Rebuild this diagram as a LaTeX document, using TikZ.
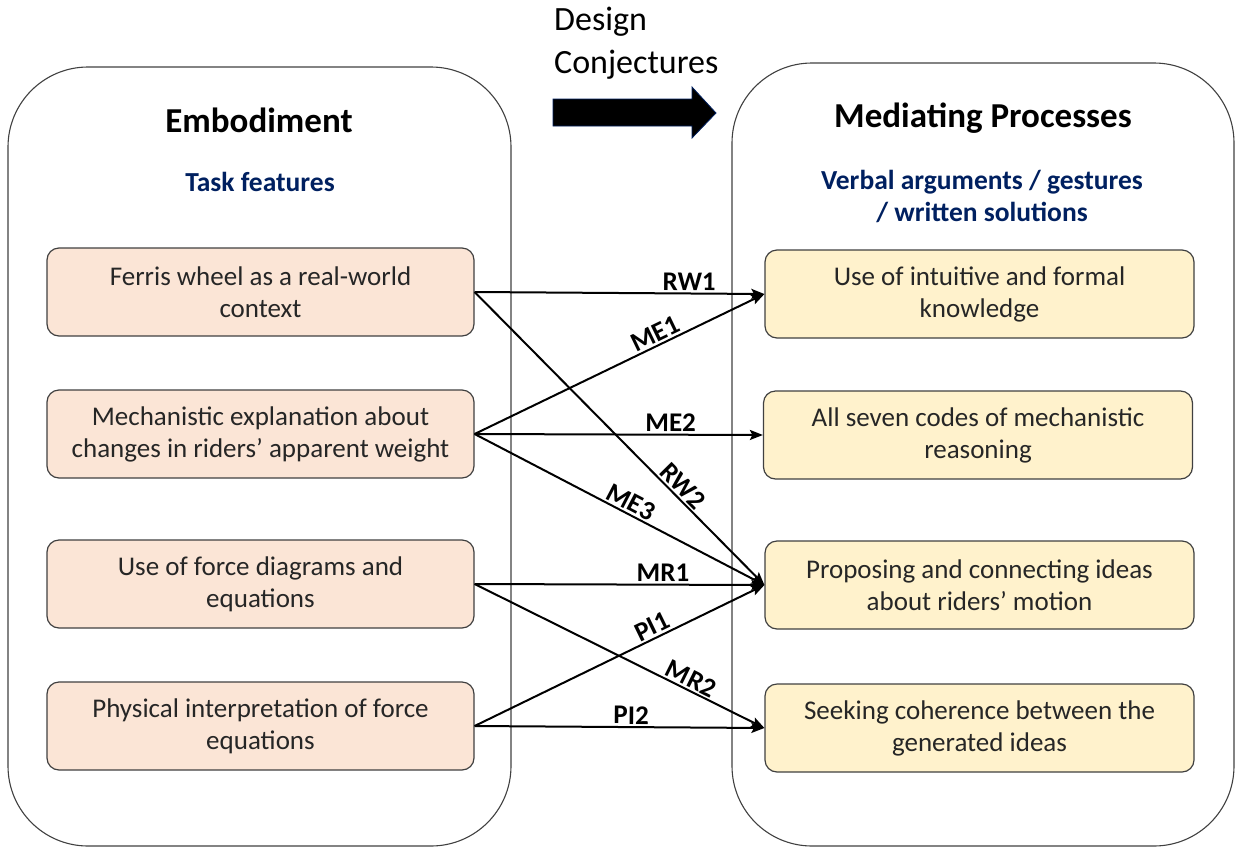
\documentclass[tikz,border=0pt]{standalone}
\usepackage{fontspec}
\setmainfont{Carlito}
\usetikzlibrary{arrows.meta}
\definecolor{peach}{RGB}{251,229,214}
\definecolor{cream}{RGB}{255,242,204}
\definecolor{navy}{RGB}{0,32,96}
\definecolor{boxline}{RGB}{64,64,64}
\definecolor{txt}{RGB}{38,38,38}
\tikzset{
  outerbox/.style={draw=boxline, line width=1.1pt, rounded corners=80pt},
  leftbox/.style={draw=boxline, line width=1.2pt, fill=peach, rounded corners=12pt,
    minimum width=427pt, minimum height=88pt, align=center, text=txt,
    font=\fontsize{27}{32}\selectfont, inner sep=0pt},
  rightbox/.style={leftbox, fill=cream, minimum width=429pt},
  conn/.style={line width=2pt, -{Stealth[length=13pt,width=10pt,inset=2.5pt]}},
  lbl/.style={font=\bfseries\fontsize{27}{30}\selectfont, sloped, above, inner sep=2pt},
  titletxt/.style={font=\bfseries\fontsize{35}{40}\selectfont},
  subtxt/.style={font=\bfseries\fontsize{27.5}{32}\selectfont, text=navy, align=center}
}
\begin{document}
\begin{tikzpicture}[x=1pt,y=-1pt]
\useasboundingbox (0,0) rectangle (1235,847);
% outer containers
\draw[outerbox] (8,67) rectangle (511,846);
\draw[outerbox] (732,63) rectangle (1234,846);
% titles
\node[titletxt] (tl) at (259,120) {Embodiment};
\node[subtxt] (sl) at (260,182) {Task features};
\node[titletxt] (tr) at (983,118) {Mediating Processes};
\node[subtxt] (sr) at (982,196) {Verbal arguments / gestures\\/ written solutions};
% design conjectures
\node[anchor=west, align=left, font=\fontsize{34}{43}\selectfont, inner sep=0pt] (dc) at (554,43) {Design\\Conjectures};
\draw[fill=black, draw=navy, line width=0.8pt] (553,99) -- (692,99) -- (692,87) -- (716,113) -- (692,138) -- (692,126) -- (553,126) -- cycle;
% left boxes
\node[leftbox] (L1) at (260.5,292) {Ferris wheel as a real-world\\context};
\node[leftbox] (L2) at (260.5,434) {Mechanistic explanation about\\changes in riders’ apparent weight};
\node[leftbox] (L3) at (260.5,584) {Use of force diagrams and\\equations};
\node[leftbox] (L4) at (260.5,726) {Physical interpretation of force\\equations};
% right boxes
\node[rightbox] (R1) at (979.5,294) {Use of intuitive and formal\\knowledge};
\node[rightbox] (R2) at (978,435) {All seven codes of mechanistic\\reasoning};
\node[rightbox] (R3) at (979.5,585) {Proposing and connecting ideas\\about riders’ motion};
\node[rightbox] (R4) at (979.5,728) {Seeking coherence between the\\generated ideas};
% connectors
\draw[conn] (L1.east) -- node[lbl, pos=0.74] {RW1} (R1.west);
\draw[conn] (L2.east) -- node[lbl, pos=0.64] {ME1} (R1.west);
\draw[conn] (L2.east) -- node[lbl, pos=0.68] {ME2} (R2.west);
\draw[conn] (L2.east) -- node[lbl, pos=0.52] {ME3} (R3.west);
\draw[conn] (L1.east) -- node[lbl, pos=0.69] {RW2} (R3.west);
\draw[conn] (L3.east) -- node[lbl, pos=0.65] {MR1} (R3.west);
\draw[conn] (L4.east) -- node[lbl, pos=0.63] {PI1} (R3.west);
\draw[conn] (L3.east) -- node[lbl, pos=0.73] {MR2} (R4.west);
\draw[conn] (L4.east) -- node[lbl, pos=0.54] {PI2} (R4.west);
\end{tikzpicture}
\end{document}
